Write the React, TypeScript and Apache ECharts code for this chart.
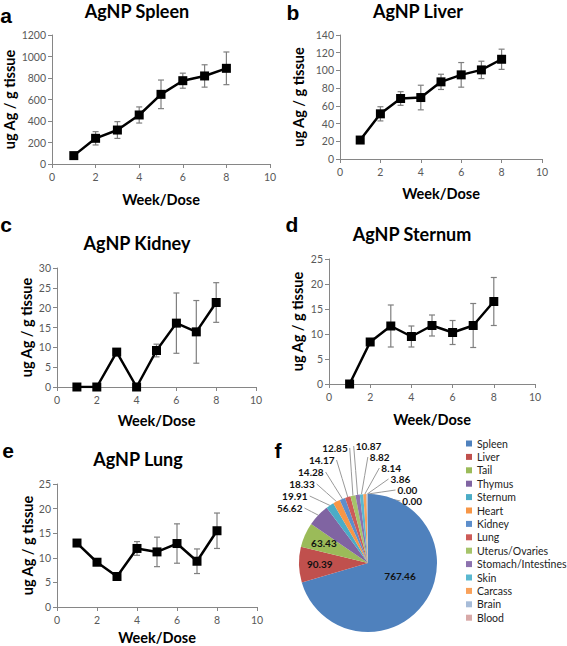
import React, { useEffect, useRef } from "react";
import * as echarts from "echarts";

// ---- data ----
const weeks = [1, 2, 3, 4, 5, 6, 7, 8];

const spleenMean = [78, 239, 316, 456, 648, 775, 819, 890];
const spleenErr = [15, 62, 78, 75, 133, 70, 104, 152];

const liverMean = [21.4, 51, 68.3, 69.4, 87.1, 95, 100.6, 112.6];
const liverErr = [2, 8, 7.7, 13.9, 8.6, 13.9, 9.8, 11.4];

const kidneyMean = [0, 0, 8.8, 0, 9.2, 16.1, 13.9, 21.3];
const kidneyErr = [0, 0, 0, 0, 1.6, 7.6, 7.9, 5];

const sternumMean = [0, 8.4, 11.6, 9.5, 11.7, 10.3, 11.7, 16.5];
const sternumErr = [0, 0, 4.2, 2.1, 2.1, 2.4, 4.4, 4.8];

const lungMean = [13.0, 9.1, 6.2, 11.9, 11.2, 12.9, 9.3, 15.5];
const lungErr = [0, 0, 0, 1.4, 3.0, 4.0, 2.5, 3.6];

const yMax = [1200, 140, 30, 25, 25];
const yStep = [200, 20, 5, 5, 5];
const xTicks = { min: 0, max: 10, interval: 2 };

const organs = [
  "Spleen", "Liver", "Tail", "Thymus", "Sternum", "Heart", "Kidney", "Lung",
  "Uterus/Ovaries", "Stomach/Intestines", "Skin", "Carcass", "Brain", "Blood", "",
];
const organValues = [
  767.46, 90.39, 63.43, 56.62, 19.91, 18.33, 14.28, 14.17, 12.85, 10.87, 8.82, 8.14, 3.86, 0.0, 0.0,
];
const organColors = [
  "#4F81BD", "#C0504D", "#9BBB59", "#8064A2", "#4BACC6", "#F79646", "#5C8ECB", "#CD5B58",
  "#A6C46A", "#8D72AE", "#5AB8D0", "#F9A15A", "#A7BCD8", "#D8A9A8", "#3A5F8C",
];

const panelTitles = ["AgNP Spleen", "AgNP Liver", "AgNP Kidney", "AgNP Sternum", "AgNP Lung"];
const panelLetters = ["a", "b", "c", "d", "e", "f"];

// ---- layout (pixels) ----
const grids = [
  { left: 52, top: 35, width: 218, height: 129 },
  { left: 340, top: 35, width: 202, height: 124 },
  { left: 57, top: 268, width: 199, height: 119 },
  { left: 329, top: 259, width: 206, height: 125 },
  { left: 57, top: 484, width: 200, height: 124 },
];
const xNameGaps = [28, 27, 26, 28, 23];
const yNameGaps = [35, 34, 23, 24, 21];
const titlePos = [
  [137, 11], [418, 11], [137, 243], [412, 234], [138, 459],
];
const letterPos = [
  [6, 15], [293, 12], [6, 224], [292, 224], [8, 450], [278, 450],
];
const PIE_CX = 368;
const PIE_CY = 563;
const PIE_R = 69;

const FONT = "Lato, 'Open Sans', sans-serif";

export default function App() {
  const ref = useRef<HTMLDivElement>(null);
  useEffect(() => {
    if (!ref.current) return;
    const chart = echarts.init(ref.current, undefined, { renderer: "svg" });

    const means = [spleenMean, liverMean, kidneyMean, sternumMean, lungMean];
    const errs = [spleenErr, liverErr, kidneyErr, sternumErr, lungErr];

    const xAxes = grids.map((_, i) => ({
      type: "value",
      gridIndex: i,
      min: xTicks.min,
      max: xTicks.max,
      interval: xTicks.interval,
      name: "Week/Dose",
      nameLocation: "middle",
      nameGap: xNameGaps[i],
      nameTextStyle: { fontFamily: FONT, fontWeight: "bold", fontSize: 14.5, color: "#000" },
      axisLine: { show: true, onZero: false, lineStyle: { color: "#868686", width: 1 } },
      axisTick: { show: true, length: 4, inside: false, lineStyle: { color: "#868686" } },
      axisLabel: { fontFamily: FONT, fontSize: 10.5, color: "#595959", margin: 7 },
      splitLine: { show: false },
    }));
    const yAxes = grids.map((_, i) => ({
      type: "value",
      gridIndex: i,
      min: 0,
      max: yMax[i],
      interval: yStep[i],
      name: "ug Ag / g tissue",
      nameLocation: "middle",
      nameGap: yNameGaps[i],
      nameTextStyle: { fontFamily: FONT, fontWeight: "bold", fontSize: 14.5, color: "#000" },
      axisLine: { show: true, lineStyle: { color: "#868686", width: 1 } },
      axisTick: { show: true, length: 4, inside: false, lineStyle: { color: "#868686" } },
      axisLabel: {
        fontFamily: FONT,
        fontSize: 10.5,
        color: "#595959",
        margin: 6,
        formatter: (v: number) => String(v),
      },
      splitLine: { show: false },
    }));

    const series: any[] = [];
    means.forEach((m, i) => {
      series.push({
        type: "custom",
        xAxisIndex: i,
        yAxisIndex: i,
        z: 1,
        data: weeks.map((w, k) => [w, m[k], errs[i][k]]),
        encode: { x: 0, y: 1 },
        renderItem: (params: any, api: any) => {
          const x = api.value(0);
          const y = api.value(1);
          const e = api.value(2);
          const hi = api.coord([x, y + e]);
          const lo = api.coord([x, y - e]);
          const cap = 3;
          const st = { stroke: "#7F7F7F", lineWidth: 1.2 };
          return {
            type: "group",
            children: [
              { type: "line", shape: { x1: hi[0], y1: hi[1], x2: lo[0], y2: lo[1] }, style: st },
              { type: "line", shape: { x1: hi[0] - cap, y1: hi[1], x2: hi[0] + cap, y2: hi[1] }, style: st },
              { type: "line", shape: { x1: lo[0] - cap, y1: lo[1], x2: lo[0] + cap, y2: lo[1] }, style: st },
            ],
          };
        },
      });
      series.push({
        type: "line",
        xAxisIndex: i,
        yAxisIndex: i,
        z: 3,
        data: weeks.map((w, k) => [w, m[k]]),
        symbol: "rect",
        symbolSize: 9,
        lineStyle: { color: "#000", width: 2.5 },
        itemStyle: { color: "#000" },
      });
    });

    // mid-angles of slices (degrees clockwise from 12 o'clock), derived from the values
    const total = organValues.reduce((a, b) => a + b, 0);
    const midAngles: number[] = [];
    let acc = 0;
    organValues.forEach((v) => {
      midAngles.push(((acc + v / 2) / total) * 360);
      acc += v;
    });
    const rad = (d: number) => (d * Math.PI) / 180;

    const pieSeriesIndex = series.length;
    series.push({
      type: "pie",
      center: [PIE_CX, PIE_CY],
      radius: PIE_R,
      startAngle: 90,
      clockwise: true,
      data: organs.map((n, k) => ({
        name: n,
        value: organValues[k],
        itemStyle: { color: organColors[k] },
        label: k < 3 ? { position: "inside" } : undefined,
        labelLine: k < 3 ? { show: false } : undefined,
      })),
      label: {
        show: true,
        position: "outside",
        formatter: (p: any) => Number(p.value).toFixed(2),
        fontFamily: FONT,
        fontWeight: "bold",
        fontSize: 10,
        lineHeight: 9,
        color: "#111",
      },
      labelLine: { show: true, length: 12, length2: 8, lineStyle: { color: "#9A9A9A", width: 1 } },
      labelLayout: (p: any) => {
        if (p.seriesIndex !== pieSeriesIndex) return {};
        const k = p.dataIndex;
        const mid = midAngles[k];
        if (k < 3) {
          const r = k === 0 ? PIE_R * 0.5 : PIE_R * 0.7;
          const a = k === 0 ? mid - 15 : mid;
          return {
            x: PIE_CX + r * Math.sin(rad(a)),
            y: PIE_CY - r * Math.cos(rad(a)),
            align: "center",
            verticalAlign: "middle",
          };
        }
        // small slices: labels fanned around the top of the pie, left group then right group
        const j = k - 3;
        const left = j <= 5;
        const ang = left ? -50 + 8 * j : -6 + 7 * (j - 6);
        const ly = left ? 508 - 12 * j : 446 + 11 * (j - 6);
        const lx = PIE_CX + (PIE_CY - ly) * Math.tan(rad(ang));
        const ex = PIE_CX + PIE_R * Math.sin(rad(mid));
        const ey = PIE_CY - PIE_R * Math.cos(rad(mid));
        const sx = lx + (left ? 2 : -2);
        return {
          x: lx,
          y: ly,
          align: left ? "right" : "left",
          verticalAlign: "middle",
          labelLinePoints: [
            [ex, ey],
            [(ex + sx) / 2, (ey + ly) / 2],
            [sx, ly],
          ],
        };
      },
      emphasis: { disabled: true },
    });

    const graphics: any[] = [];
    panelTitles.forEach((t, i) => {
      graphics.push({
        type: "text",
        x: titlePos[i][0],
        y: titlePos[i][1],
        style: {
          text: t,
          fontFamily: FONT,
          fontWeight: "bold",
          fontSize: 18,
          fill: "#000",
          align: "center",
          verticalAlign: "middle",
        },
      });
    });
    panelLetters.forEach((t, i) => {
      graphics.push({
        type: "text",
        x: letterPos[i][0],
        y: letterPos[i][1],
        style: {
          text: t,
          fontFamily: "'Liberation Sans', Arial, sans-serif",
          fontWeight: "bold",
          fontSize: 21,
          fill: "#000",
          align: "center",
          verticalAlign: "middle",
        },
      });
    });

    chart.setOption({
      animation: false,
      backgroundColor: "#fff",
      grid: grids.map((g) => ({ ...g, containLabel: false })),
      xAxis: xAxes,
      yAxis: yAxes,
      series,
      legend: {
        orient: "vertical",
        left: 461,
        top: 432,
        data: organs.slice(0, 14),
        icon: "rect",
        itemWidth: 6,
        itemHeight: 6,
        itemGap: 0.4,
        selectedMode: false,
        textStyle: { fontFamily: FONT, fontSize: 10.5, color: "#222", lineHeight: 13 },
      },
      graphic: graphics,
    });
    return () => chart.dispose();
  }, []);
  return (
    <div
      ref={ref}
      style={{ position: "absolute", left: 0, top: 0, width: 567, height: 646, background: "#fff" }}
    />
  );
}
